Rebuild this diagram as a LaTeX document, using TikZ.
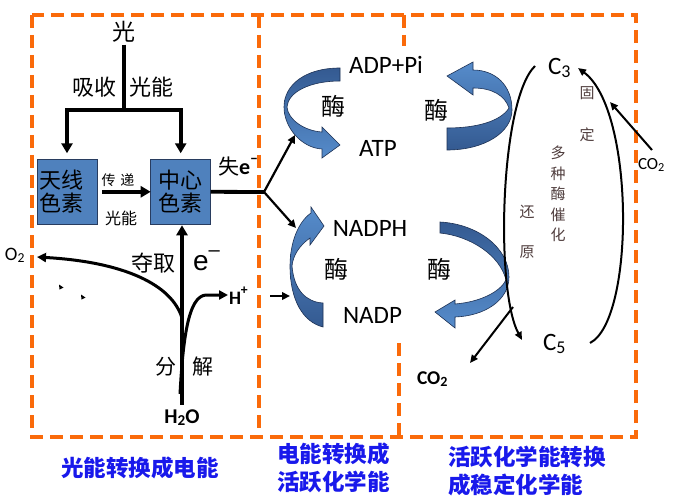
\documentclass[tikz,border=0pt]{standalone}
\usepackage{fontspec}
\usepackage{graphicx}
\setmainfont{Carlito}
\newfontfamily\cjk{Noto Sans CJK SC}
\newfontfamily\arialish{Liberation Sans}
\usetikzlibrary{arrows.meta}
\definecolor{dashorange}{RGB}{250,106,10}
\definecolor{boxblue}{RGB}{79,129,189}
\definecolor{boxedge}{RGB}{40,60,95}
\definecolor{ribbonlight}{RGB}{86,140,203}
\definecolor{ribbondark}{RGB}{52,90,145}
\definecolor{ribbonedge}{RGB}{30,50,85}
\definecolor{labelblue}{RGB}{25,25,235}
\definecolor{notegray}{RGB}{80,62,62}
\newcommand\fsz[2]{\fontsize{#1}{#2}\selectfont}
\newcommand\lsub[1]{\raisebox{-0.12em}{\scalebox{0.72}{#1}}}
\newcommand\lsup[1]{\raisebox{0.5em}{\scalebox{0.72}{#1}}}
\begin{document}
\begin{tikzpicture}[x=1pt,y=-1pt,
  every node/.style={inner sep=0pt, outer sep=0pt},
  dashbox/.style={draw=dashorange, line width=3.5pt, dash pattern=on 13pt off 7pt},
  pig/.style={draw=boxedge, fill=boxblue, line width=0.8pt, minimum width=60pt, minimum height=65pt, font=\cjk\fsz{22}{23}, align=center},
  heavy/.style={line width=3.8pt},
  heavyarrow/.style={line width=3.8pt, -{Triangle[length=10pt,width=11pt]}},
  curvearrow/.style={line width=3pt, -{Triangle[length=9pt,width=9pt]}},
  midarrow/.style={line width=2.2pt, -{Triangle[length=8pt,width=7.5pt]}},
  thinarrow/.style={line width=2pt, -{Triangle[length=8pt,width=7pt]}},
  ribbon/.style={draw=ribbonedge, line width=0.6pt},
  cjkt/.style={font=\cjk\fsz{#1}{#1}},
  note/.style={text=notegray, font=\cjk\fsz{15}{20.5}, align=center},
  bluelab/.style={text=labelblue, font=\cjk\bfseries\fsz{22.5}{28}},
  latin/.style={font=\fsz{#1}{#1}}
]
\fill[white] (0,0) rectangle (682,497);
\useasboundingbox (0,0) rectangle (682,497);

% dashed frames
\draw[dashbox] (32,15) rectangle (636,437);
\draw[dashbox] (259,15) -- (259,437);
\draw[dashbox] (404,15) -- (404,46);
\draw[dashbox] (399,343) -- (399,437);

% ---------- left panel ----------
\node[cjkt=23] (guang) at (124,32) {光};
\node[cjkt=22] (xishou) at (94,87) {吸收};
\node[cjkt=22] (guangneng) at (151,87) {光能};
\node[pig, text width=56pt, align=left, inner xsep=2pt] (tx) at (67,191.8) {天线\\色素};
\node[pig] (zx) at (180.7,191.8) {中心\\色素};
\coordinate (split) at (124,110);
\draw[heavy, shorten <=2pt] (guang.south) -- (split);
\draw[heavyarrow, shorten >=6pt] (split) -| (tx.north);
\draw[heavyarrow, shorten >=6pt] (split) -| (zx.north);
\node[cjkt=14] (chuandi) at (118,180) {传\hspace{5pt}递};
\node[cjkt=16] (gn2) at (121,218) {光能};
\draw[heavyarrow, shorten <=5pt] (tx.east) -- (zx.west);

\coordinate (junc) at (264,192);
\coordinate (atpin) at (295,135);
\coordinate (nadin) at (296,228);
\draw[heavy] (zx.east) -- (junc);
\node[anchor=base west] (shi) at (218,175) {{\cjk\fsz{21}{21}失}{\bfseries\fsz{22}{22}e\lsup{–}}};
\draw[midarrow] (junc) -- (atpin);
\draw[midarrow] (junc) -- (nadin);

\node[anchor=base, font=\bfseries\fsz{21}{21}] (h2o) at (182,423.3) {H\lsub{2}O};
\draw[heavyarrow, shorten <=5pt, shorten >=1pt] (h2o.north) -- (h2o.north |- zx.south);
\node[cjkt=22] (duoqu) at (153,263) {夺取};
\node[anchor=base west, font=\arialish\fsz{28}{28}] (eminus) at (193,270.7) {e\lsup{–}};

\node[anchor=base west, latin=19] (o2) at (5,260.7) {O\lsub{2}};
\coordinate (o2tip) at (37,257);
\coordinate (splitpt) at (182,318);
\draw[curvearrow] (splitpt) .. controls (172,285) and (125,262) .. (o2tip);

\node[anchor=base west, font=\bfseries\fsz{19}{19}] (hplus) at (229,304) {H\lsup{+}};
\coordinate (hstart) at (180,394);
\coordinate (htip) at (228,295);
\draw[curvearrow] (hstart) .. controls (183,340) and (188,296) .. (206,295) -- (htip);
\node[cjkt=21] (fen) at (166,367) {分};
\node[cjkt=21] (jie) at (202.5,367) {解};

\fill (59,284.5) -- (63.5,287.5) -- (59.5,289.5) -- cycle;
\fill (81,294.5) -- (85.5,297.5) -- (81.5,299.5) -- cycle;

\coordinate (hin1) at (270,296);
\coordinate (hin2) at (290,296);
\draw[midarrow] (hin1) -- (hin2);

% ---------- middle panel ----------
\path[ribbon, top color=ribbondark, bottom color=ribbonlight]
  (340,68) .. controls (305,68) and (284,85) .. (284,107)
  .. controls (284,128) and (302,148) .. (322,149)
  -- (322,158) -- (340,145) -- (322,127) -- (322,132)
  .. controls (305,131) and (288,120) .. (287,107)
  .. controls (288,92) and (310,81) .. (340,81) -- cycle;
\path[ribbon, top color=ribbonlight, bottom color=ribbondark]
  (447,150) .. controls (485,150) and (512,132) .. (512,110)
  .. controls (512,85) and (495,70) .. (473,70)
  -- (473,62) -- (447,76) -- (473,95) -- (473,88)
  .. controls (493,88) and (505,96) .. (509,108)
  .. controls (500,122) and (475,128) .. (447,128) -- cycle;
\path[ribbon, top color=ribbonlight, bottom color=ribbondark]
  (323,327) .. controls (303,322) and (290,300) .. (290,266)
  .. controls (290,243) and (298,222) .. (311,213)
  -- (311,207) -- (324,226) -- (310,245) -- (310,238)
  .. controls (300,245) and (293,255) .. (292,266)
  .. controls (294,290) and (306,302) .. (323,303) -- cycle;
\path[ribbon, top color=ribbondark, bottom color=ribbonlight]
  (440,222) .. controls (478,224) and (509,248) .. (509,277)
  .. controls (509,300) and (485,316) .. (455,317)
  -- (455,328) -- (435,312) -- (455,300) -- (455,304)
  .. controls (480,302) and (500,292) .. (506,280)
  .. controls (500,255) and (470,236) .. (440,233) -- cycle;

\node[anchor=base, latin=25] (adp) at (386,73.3) {ADP+Pi};
\node[anchor=base, latin=25] (atp) at (378,156.7) {ATP};
\node[anchor=base, latin=25] (nadph) at (370,236.7) {NADPH};
\node[anchor=base, latin=25] (nadp) at (372.5,323.3) {NADP};
\node[cjkt=24] (mei1) at (333,106) {酶};
\node[cjkt=24] (mei2) at (436,110) {酶};
\node[cjkt=24] (mei3) at (336,269) {酶};
\node[cjkt=24] (mei4) at (439,269) {酶};

% ---------- right panel ----------
\node[anchor=base west, latin=25] (c3) at (548,75) {C\lsub{3}};
\node[anchor=base west, latin=25] (c5) at (543,350) {C\lsub{5}};
\coordinate (la) at (535,66);
\coordinate (lb) at (522,340);
\draw[thinarrow] (la) .. controls (500,100) and (495,290) .. (lb);
\coordinate (ra) at (590,343);
\coordinate (rb) at (578,68);
\draw[thinarrow] (ra) .. controls (635,320) and (635,110) .. (rb);
\node[anchor=base west, latin=17] (co2r) at (638,169.3) {CO\lsub{2}};
\coordinate (co2from) at (652,150);
\coordinate (co2to) at (610,102);
\draw[thinarrow] (co2from) -- (co2to);
\node[anchor=base west, font=\bfseries\fsz{19.5}{19.5}] (co2b) at (417,384.3) {CO\lsub{2}};
\coordinate (lc) at (513,307);
\coordinate (lctip) at (470,363);
\draw[thinarrow] (lc) -- (lctip);

\node[note] (gu) at (587,93) {固};
\node[note] (ding) at (587,135) {定};
\node[note] (duo) at (558,194) {多\\种\\酶\\催\\化};
\node[note] (huan) at (527,212) {还};
\node[note] (yuan) at (527,252) {原};

% ---------- bottom labels ----------
\node[bluelab] (l1) at (140,468) {光能转换成电能};
\node[bluelab, anchor=west, align=left] (l2) at (277,468) {电能转换成\\活跃化学能};
\node[bluelab, anchor=west, align=left] (l3) at (448,471) {活跃化学能转换\\成稳定化学能};
\end{tikzpicture}
\end{document}
